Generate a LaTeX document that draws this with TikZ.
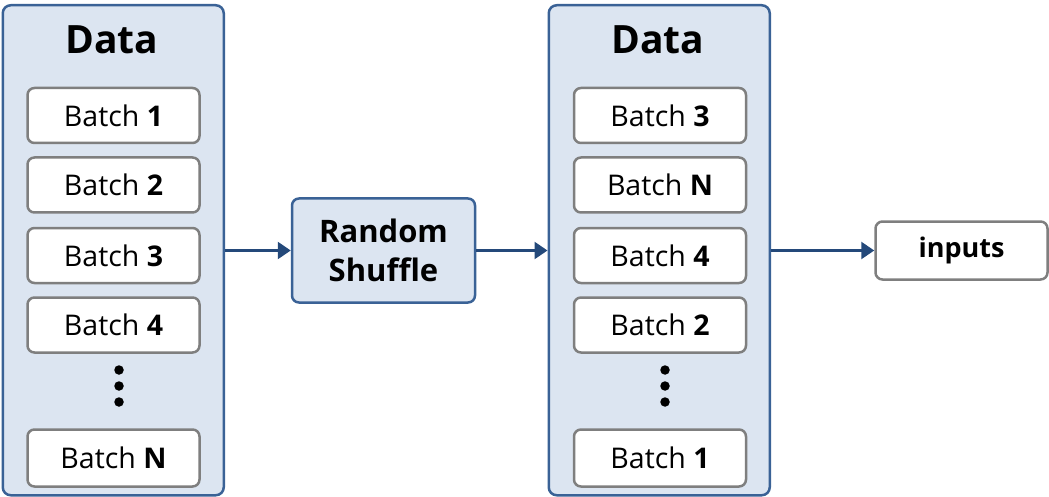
\documentclass[tikz,border=0pt]{standalone}
\usepackage{fontspec}
\setmainfont{Open Sans}
\usetikzlibrary{arrows.meta}
\definecolor{boxfill}{HTML}{DCE5F1}
\definecolor{boxline}{HTML}{3A6296}
\definecolor{grayline}{HTML}{7F7F7F}
\definecolor{arrowc}{HTML}{24497A}
\tikzset{
  databox/.style={draw=boxline, fill=boxfill, line width=2.5pt, rounded corners=8pt},
  batchbox/.style={draw=grayline, fill=white, line width=2.5pt, rounded corners=7pt, font=\fontsize{28.5}{32}\selectfont},
  shufflebox/.style={draw=boxline, fill=boxfill, line width=2.5pt, rounded corners=7pt, font=\fontsize{31}{39}\selectfont\bfseries, align=center},
  titletext/.style={font=\fontsize{39}{44}\selectfont\bfseries},
  conn/.style={draw=arrowc, line width=2.5pt, -{Triangle[length=13pt,width=17pt]}},
  dotc/.style={circle, fill=black, inner sep=0pt, minimum size=9.5pt}
}
\begin{document}
\begin{tikzpicture}[x=1pt,y=-1pt]
\useasboundingbox (0,0) rectangle (1049,497);
% left data
\node[databox, minimum width=221pt, minimum height=490pt, anchor=north west] (L) at (1.5,4) {};
\node[titletext] (Lt) at (112,40) {Data};
\node[batchbox, minimum width=172pt, minimum height=55pt] (L1) at (113.5,115.5) {Batch \textbf{1}};
\node[batchbox, minimum width=172pt, minimum height=55pt] (L2) at (113.5,185) {Batch \textbf{2}};
\node[batchbox, minimum width=172pt, minimum height=55pt] (L3) at (113.5,255.5) {Batch \textbf{3}};
\node[batchbox, minimum width=172pt, minimum height=55pt] (L4) at (113.5,325) {Batch \textbf{4}};
\node[batchbox, minimum width=172pt, minimum height=57pt] (LN) at (113.5,458) {Batch \textbf{N}};
\node[dotc] (Ld1) at (119,370) {};
\node[dotc] (Ld2) at (119,386) {};
\node[dotc] (Ld3) at (119,402) {};
% shuffle
\node[shufflebox, minimum width=183pt, minimum height=104pt] (S) at (383.5,250.5) {Random\\Shuffle};
% right data
\node[databox, minimum width=221pt, minimum height=490pt, anchor=north west] (R) at (547.5,4) {};
\node[titletext] (Rt) at (658,40) {Data};
\node[batchbox, minimum width=172pt, minimum height=55pt] (R1) at (660,115.5) {Batch \textbf{3}};
\node[batchbox, minimum width=172pt, minimum height=55pt] (R2) at (660,185) {Batch \textbf{N}};
\node[batchbox, minimum width=172pt, minimum height=55pt] (R3) at (660,255.5) {Batch \textbf{4}};
\node[batchbox, minimum width=172pt, minimum height=55pt] (R4) at (660,325) {Batch \textbf{2}};
\node[batchbox, minimum width=172pt, minimum height=57pt] (RN) at (660,458) {Batch \textbf{1}};
\node[dotc] (Rd1) at (665,370) {};
\node[dotc] (Rd2) at (665,386) {};
\node[dotc] (Rd3) at (665,402) {};
% inputs
\node[batchbox, minimum width=172pt, minimum height=58pt, font=\fontsize{27}{30}\selectfont\bfseries] (I) at (961.5,250.5) {inputs};
% arrows
\draw[conn] (L.east |- S.west) -- (S.west);
\draw[conn] (S.east) -- (R.west |- S.east);
\draw[conn] (R.east |- I.west) -- (I.west);
\end{tikzpicture}
\end{document}
